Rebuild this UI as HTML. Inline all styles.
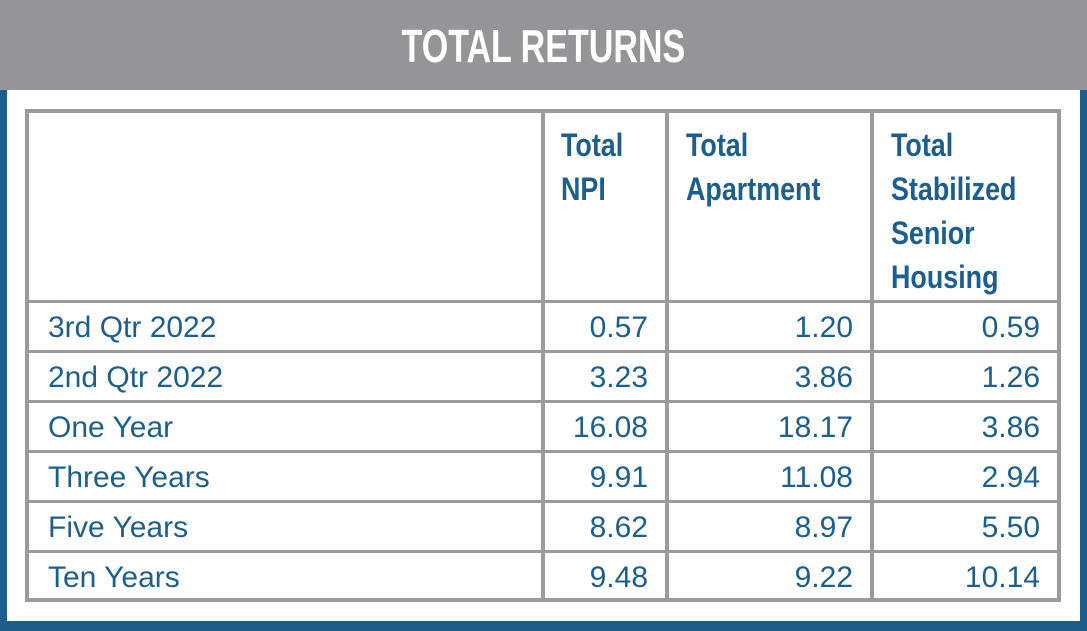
<!DOCTYPE html>
<html><head><meta charset="utf-8"><style>
body{margin:0;width:1087px;height:631px;background:#fff;overflow:hidden;position:relative;font-family:"Liberation Sans Narrow","Liberation Sans",sans-serif;color:#1d5f8c}
.hdr{position:absolute;left:0;top:0;width:1087px;height:90px;background:#959597}
.hdr span{position:absolute;left:0;width:1087px;top:0;text-align:center;color:#fff;font-weight:bold;font-size:46px;line-height:92px;transform:scaleX(0.74);transform-origin:543px 0}
.frame{position:absolute;left:0;top:90px;width:1087px;height:541px;box-sizing:border-box;border:7px solid #1e5d8c;border-top:none;border-bottom-width:10px}
.tbl{position:absolute;left:25px;top:109px;width:1036px;height:493px;box-sizing:border-box;border:4px solid #9b9b9b}
.v,.h{position:absolute;background:#9b9b9b}
.v{top:0;width:4px;height:485px}
.h{left:0;height:3px;width:1028px}
.th{position:absolute;font-weight:bold;font-size:32px;line-height:44px;top:10px;transform:scaleX(0.84);transform-origin:0 0;white-space:nowrap}
.c{position:absolute;font-size:30px;line-height:48px;height:48px}
.r{text-align:right}
</style></head><body>
<div class="hdr"><span>TOTAL RETURNS</span></div>
<div class="frame"></div>
<div class="tbl">
<div class="v" style="left:512px"></div>
<div class="v" style="left:636px"></div>
<div class="v" style="left:841px"></div>
<div class="h" style="top:187px"></div>
<div class="h" style="top:237px"></div>
<div class="h" style="top:287px"></div>
<div class="h" style="top:337px"></div>
<div class="h" style="top:387px"></div>
<div class="h" style="top:437px"></div>
<div class="th" style="left:532px">Total<br>NPI</div>
<div class="th" style="left:657px">Total<br>Apartment</div>
<div class="th" style="left:862px">Total<br>Stabilized<br>Senior<br>Housing</div>
<div id="rows"></div>
</div>
<script>
const labels=["3rd Qtr 2022","2nd Qtr 2022","One Year","Three Years","Five Years","Ten Years"];
const npi=["0.57","3.23","16.08","9.91","8.62","9.48"];
const apt=["1.20","3.86","18.17","11.08","8.97","9.22"];
const senior=["0.59","1.26","3.86","2.94","5.50","10.14"];
const rows=document.getElementById('rows');
function cell(txt,left,width,top,right,name){
  const d=document.createElement('div');
  d.className='c'+(right?' r':'');
  d.style.left=left+'px';d.style.width=width+'px';d.style.top=top+'px';
  d.textContent=txt;
  
  
  rows.appendChild(d);
}
labels.forEach((l,i)=>{
  const top=191+i*50;
  cell(l,19,480,top,false,'row-label');
  cell(npi[i],516,103,top,true,'npi-value');
  cell(apt[i],640,184,top,true,'apartment-value');
  cell(senior[i],845,166,top,true,'senior-value');
});
</script>
</body></html>
